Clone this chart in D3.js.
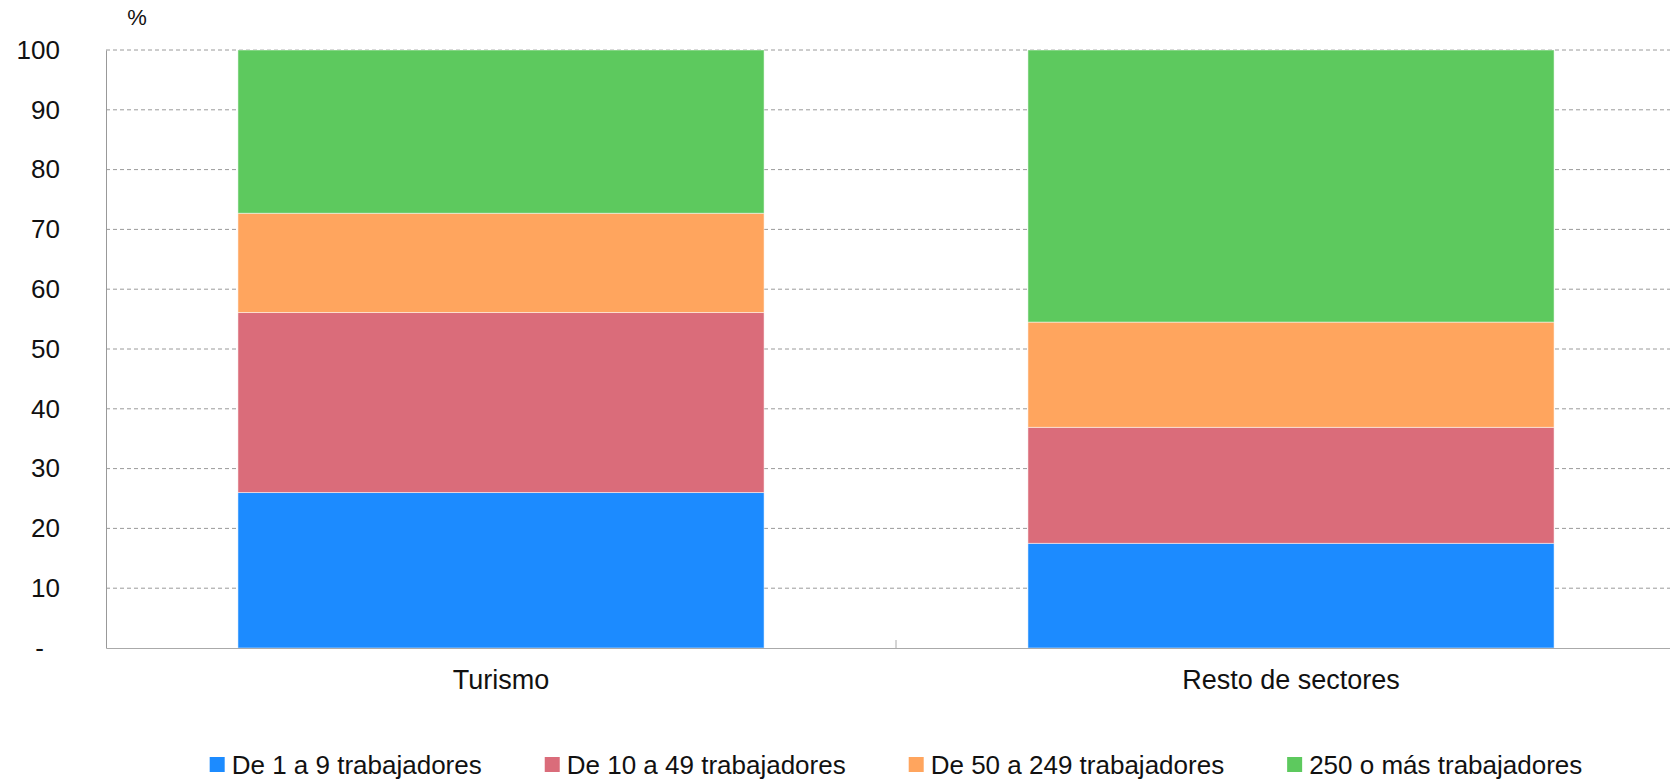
<!DOCTYPE html>
<html><head><meta charset="utf-8">
<script src="https://cdn.jsdelivr.net/npm/d3@7"></script>
<style>body{margin:0;background:#fff}svg{display:block}text{font-family:"Liberation Sans",Arial,Helvetica,sans-serif;fill:#111}</style>
</head><body><svg id="c" width="1670" height="780"></svg>
<script>
const categories = ["Turismo", "Resto de sectores"];
const seriesNames = ["De 1 a 9 trabajadores", "De 10 a 49 trabajadores", "De 50 a 249 trabajadores", "250 o más trabajadores"];
const s1 = [26.0, 17.5];
const s2 = [30.1, 19.4];
const s3 = [16.6, 17.6];
const s4 = [27.3, 45.5];
const yTicks = [0, 10, 20, 30, 40, 50, 60, 70, 80, 90, 100];
const colors = ["#1c8bff", "#da6c7a", "#ffa55e", "#5dc95e"];

const svg = d3.select("#c");
const L = 106, R = 1686, T = 50, B = 648;
const x = d3.scaleBand().domain(categories).range([L, R]).paddingInner(0.334).paddingOuter(0.167);
const y = d3.scaleLinear().domain([0, 100]).range([B, T]);
const FS = 26;

// grid
svg.append("g").selectAll("line").data(yTicks.filter(d => d > 0)).join("line")
  .attr("x1", L).attr("x2", R).attr("y1", d => y(d)).attr("y2", d => y(d))
  .attr("stroke", "#9a9a9a").attr("stroke-width", 1).attr("stroke-dasharray", "4,3");

// stacked bars
const rows = categories.map((c, i) => ({cat: c, s0: s1[i], s1: s2[i], s2: s3[i], s3: s4[i]}));
const stack = d3.stack().keys(["s0", "s1", "s2", "s3"])(rows);
svg.append("g").selectAll("g").data(stack).join("g").attr("fill", (d, i) => colors[i])
  .selectAll("rect").data(d => d).join("rect")
  .attr("x", d => x(d.data.cat)).attr("width", x.bandwidth())
  .attr("y", d => y(d[1])).attr("height", d => y(d[0]) - y(d[1]))
  .attr("stroke", "rgba(255,255,255,0.5)").attr("stroke-width", 1);

// y axis
const ya = svg.append("g").attr("transform", `translate(${L},0)`)
  .call(d3.axisLeft(y).tickValues(yTicks).tickSize(0).tickPadding(46).tickFormat(d => d === 0 ? "-" : d));
ya.select(".domain").attr("stroke", "#999");
ya.selectAll("text").attr("font-size", FS).attr("font-family", null).attr("fill", "#111")
  .attr("dx", d => d === 0 ? -16 : 0);

// x axis
const xa = svg.append("g").attr("transform", `translate(0,${B})`)
  .call(d3.axisBottom(x).tickSize(0).tickPadding(22));
xa.select(".domain").attr("stroke", "#aaa");
xa.selectAll("text").attr("font-size", 27).attr("font-family", null).attr("fill", "#111");
// category separator tick
const sep = (x(categories[0]) + x.bandwidth() + x(categories[1])) / 2;
svg.append("line").attr("x1", sep).attr("x2", sep)
  .attr("y1", B).attr("y2", B - 8).attr("stroke", "#aaa");

// % label
svg.append("text").attr("x", 137).attr("y", 25).attr("text-anchor", "middle").attr("font-size", 22).text("%");

// legend
const gap = 63;
const lg = svg.append("g");
const items = lg.selectAll("g").data(seriesNames).join("g");
items.append("rect").attr("width", 15).attr("height", 15).attr("y", -8).attr("fill", (d, i) => colors[i]);
items.append("text").attr("x", 22).attr("y", 0).attr("dy", "0.35em").attr("font-size", FS).text(d => d);
let cx = 0;
items.each(function() {
  d3.select(this).attr("transform", `translate(${cx},765)`);
  cx += this.getBBox().width + gap;
});
const total = cx - gap;
lg.attr("transform", `translate(${(L + R) / 2 - total / 2},0)`);
</script></body></html>
